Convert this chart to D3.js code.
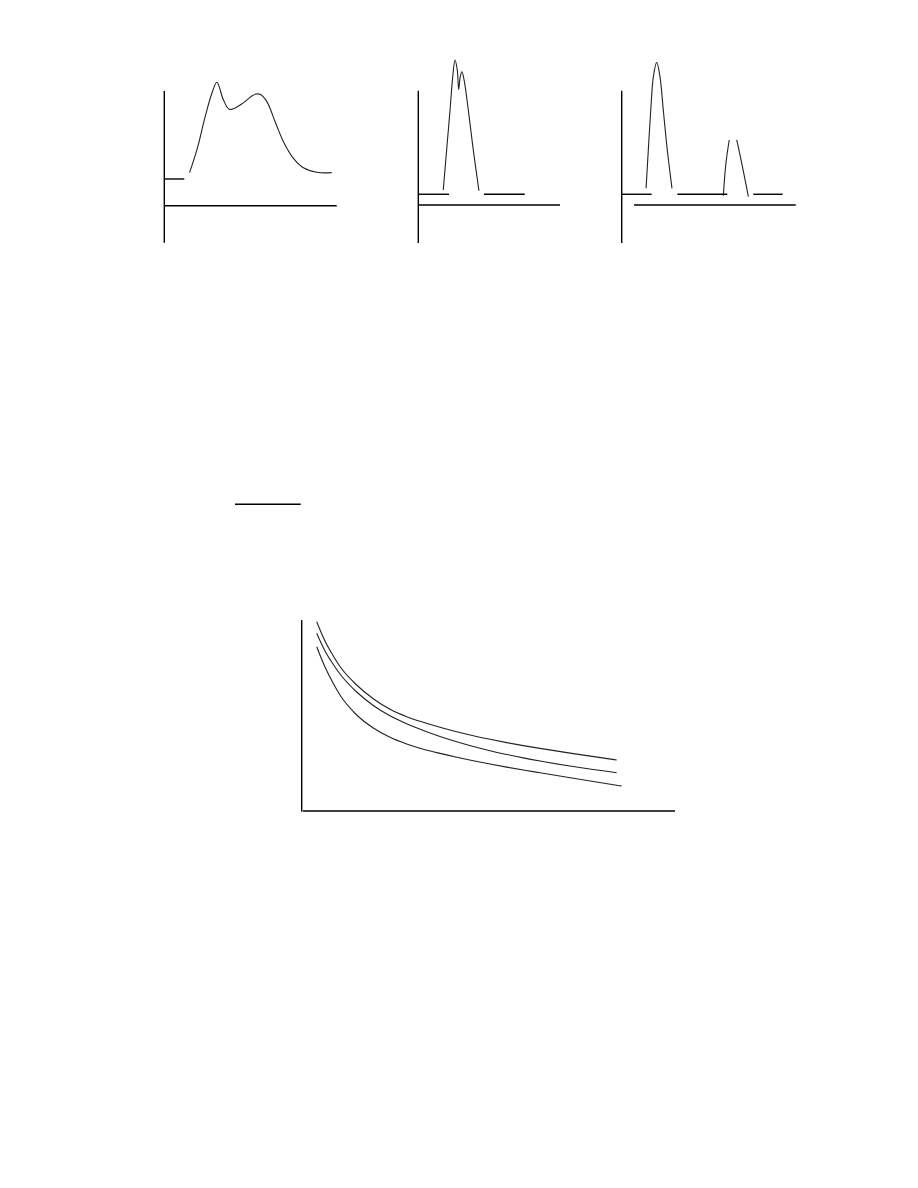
<!DOCTYPE html>
<html>
<head>
<meta charset="utf-8">
<script src="https://cdn.jsdelivr.net/npm/d3@7"></script>
<style>
  html, body { margin: 0; padding: 0; background: #fff; }
  svg { display: block; }
</style>
</head>
<body>
<script>
// ---------- DATA ----------
// Panel 1: broad two-hump signal
const p1X = [14.65, 18.9, 23.7, 27.6, 30.5, 34.3, 37.8, 44.0, 50.8, 53.3, 55.6, 59.5, 64.3, 69.1, 74.9, 80.7, 88.4, 97.1];
const p1Y = [28.8, 48.6, 77.6, 98.0, 107.6, 92.2, 84.0, 87.8, 95.6, 97.4, 97.1, 90.7, 73.2, 55.8, 41.3, 33.1, 29.1, 28.8];
const p1Base = [[0, 11.6, 23.3]];

// Panel 2: narrow double peak
const p2X = [17.6, 20.0, 22.4, 24.3, 25.9, 27.5, 28.5, 29.6, 30.8, 32.3, 35.3, 38.8, 42.8];
const p2Y = [13.1, 48.1, 83.1, 112.3, 126.9, 118.1, 101.2, 112.3, 116.6, 109.4, 83.1, 48.1, 12.5];
const p2Base = [[0, 21.7, 9.4], [46.4, 75.1, 9.4]];

// Panel 3: two separated peaks
const p3AX = [14.0, 15.3, 16.7, 18.2, 20.1, 22.0, 23.9, 26.2, 28.9];
const p3AY = [14.6, 48.1, 83.1, 112.3, 124.8, 112.3, 83.1, 48.1, 14.6];
const p3BLeftX = [58.4, 59.9, 61.8];
const p3BLeftY = [8.1, 36.5, 56.9];
const p3BRightX = [66.1, 69.0, 72.8];
const p3BRightY = [56.9, 36.5, 7.3];
const p3Base = [[0, 17.2, 9.4], [32.0, 60.7, 9.4], [75.6, 92.5, 9.4]];

// Bottom chart: three decaying curves
const cX = [4.02, 6.24, 8.47, 10.26, 14.73, 19.18, 23.65, 28.13, 32.57, 37.05, 41.52, 45.97, 50.44, 54.92, 59.36, 63.84, 72.76];
const cTopEnd = 84.38, cMidEnd = 84.38, cBotEnd = 85.72;
const cTopY = [99.11, 89.01, 81.15, 75.65, 65.97, 58.74, 53.25, 49.37, 46.44, 43.82, 41.52, 39.42, 37.54, 35.81, 34.24, 32.77, 30.05, 26.70];
const cMidY = [93.04, 83.77, 76.70, 71.73, 62.30, 55.24, 49.84, 45.65, 42.15, 39.01, 36.23, 33.77, 31.57, 29.58, 27.80, 26.18, 23.30, 20.05];
const cBotY = [86.02, 75.39, 66.75, 60.73, 50.26, 43.46, 38.59, 35.08, 32.36, 30.16, 28.17, 26.34, 24.61, 22.98, 21.47, 20.00, 17.12, 13.09];

// ---------- DRAW ----------
const W = 918, H = 1188;
const svg = d3.select("body").append("svg").attr("width", W).attr("height", H);

const zip = (xs, ys) => xs.map((x, i) => [x, ys[i]]);

function panel(cfg) {
  const x = d3.scaleLinear().domain([0, 100]).range([cfg.x0, cfg.x1]);
  const y = d3.scaleLinear().domain([0, 100]).range([cfg.y0, cfg.y0 - cfg.h]);
  const g = svg.append("g");
  g.append("line")
    .attr("x1", x(0)).attr("x2", x(0))
    .attr("y1", y(cfg.yTop)).attr("y2", y(cfg.yBot))
    .attr("stroke", "#000").attr("stroke-width", 1.4);
  g.append("line")
    .attr("x1", x(cfg.xStart)).attr("x2", x(cfg.xEnd))
    .attr("y1", y(0)).attr("y2", y(0))
    .attr("stroke", "#000").attr("stroke-width", 1.4);
  (cfg.base || []).forEach(b => {
    g.append("line")
      .attr("x1", x(b[0])).attr("x2", x(b[1]))
      .attr("y1", y(b[2])).attr("y2", y(b[2]))
      .attr("stroke", "#000").attr("stroke-width", 1.4);
  });
  const line = d3.line().x(d => x(d[0])).y(d => y(d[1])).curve(cfg.curve);
  cfg.series.forEach(s => {
    g.append("path").attr("d", line(s))
      .attr("fill", "none").attr("stroke", "#222").attr("stroke-width", 1.1);
  });
}

const peakCurve = d3.curveCatmullRom.alpha(0.5);

panel({ x0: 164.3, x1: 336.7, y0: 205.7, h: 114.7, yTop: 100, yBot: -32.3, xStart: 0, xEnd: 100,
        base: p1Base, curve: peakCurve, series: [zip(p1X, p1Y)] });
panel({ x0: 418.3, x1: 560, y0: 205, h: 114.3, yTop: 100, yBot: -33.2, xStart: 0, xEnd: 100,
        base: p2Base, curve: peakCurve, series: [zip(p2X, p2Y)] });
panel({ x0: 621.7, x1: 795.7, y0: 205, h: 114.3, yTop: 100, yBot: -33.2, xStart: 7.1, xEnd: 100,
        base: p3Base, curve: peakCurve,
        series: [zip(p3AX, p3AY), zip(p3BLeftX, p3BLeftY), zip(p3BRightX, p3BRightY)] });

// short standalone rule
const rx = d3.scaleLinear().domain([0, 1]).range([235, 300.7]);
svg.append("line").attr("x1", rx(0)).attr("x2", rx(1)).attr("y1", 504.3).attr("y2", 504.3)
  .attr("stroke", "#000").attr("stroke-width", 1.4);

panel({ x0: 301.7, x1: 675, y0: 811, h: 191, yTop: 100, yBot: -0.4, xStart: 0.35, xEnd: 100,
        base: [], curve: d3.curveMonotoneX,
        series: [zip(cX.concat([cTopEnd]), cTopY), zip(cX.concat([cMidEnd]), cMidY), zip(cX.concat([cBotEnd]), cBotY)] });
</script>
</body>
</html>
